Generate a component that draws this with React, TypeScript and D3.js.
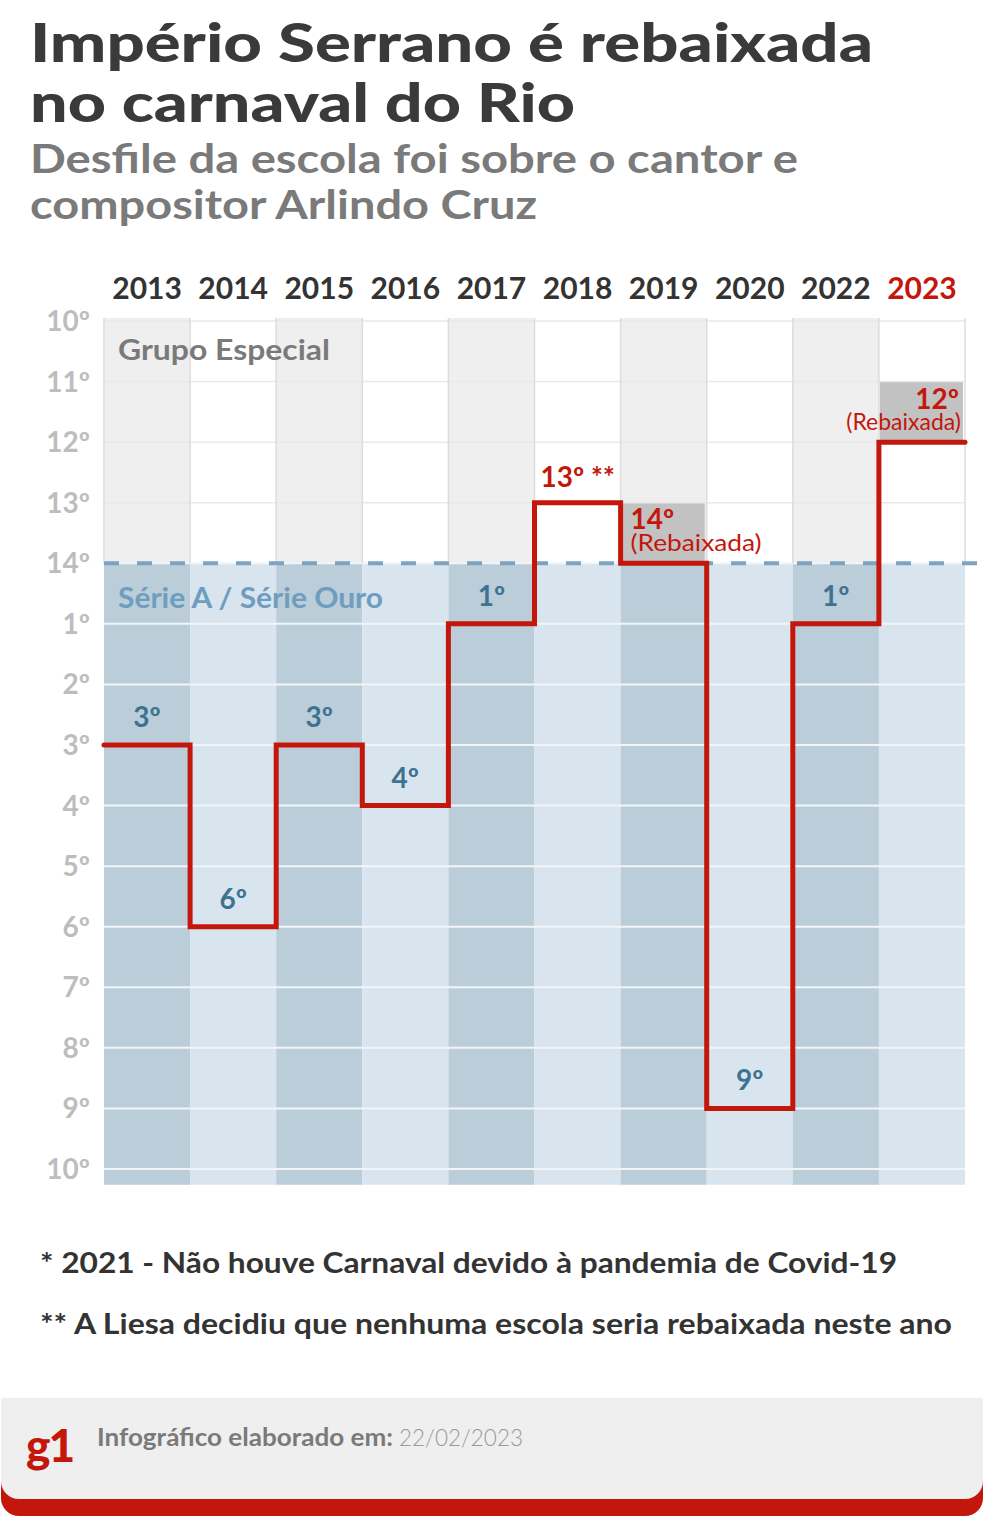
import React from 'react'
import * as d3 from 'd3'

const YEARS = ['2013', '2014', '2015', '2016', '2017', '2018', '2019', '2020', '2022', '2023']
const GROUPS = ['A', 'A', 'A', 'A', 'A', 'GE', 'GE', 'A', 'A', 'GE']
const RANKS = [3, 6, 3, 4, 1, 13, 14, 9, 1, 12]
const TICK_LABELS = ['10º', '11º', '12º', '13º', '14º', '1º', '2º', '3º', '4º', '5º', '6º', '7º', '8º', '9º', '10º']
const RELEGATED = ['2019', '2023']

const W = 984
const H = 1526
const RED = '#c4170c'
const BLUE_TXT = '#3d7391'
const FONT = 'Lato, "Noto Sans", sans-serif'

// position on the chart: Grupo Especial 10º..14º -> 0..4, Série A 1º..10º -> 5..14
const pos = (g: string, r: number) => (g === 'GE' ? r - 10 : r + 4)

const x = d3.scaleBand<string>().domain(YEARS).range([104, 965]).padding(0)
const y = d3.scaleLinear().domain([0, 14]).range([321, 1169])

const plotTop = y(-0.05)
const plotBottom = y(14.26)
const split = y(4)

export default function App() {
  const bw = x.bandwidth()
  const pts: [number, number][] = YEARS.map((yr, i) => [x(yr)!, y(pos(GROUPS[i], RANKS[i]))])
  pts.push([x(YEARS[YEARS.length - 1])! + bw, pts[pts.length - 1][1]])
  const line = d3.line().curve(d3.curveStepAfter)(pts) || ''

  return (
    <div style={{ position: 'absolute', left: 0, top: 0 }}>
      <svg width={W} height={H} style={{ display: 'block', fontFamily: FONT }}>
        <rect width={W} height={H} fill="#fff" />

        {/* titles */}
        <text x={30} y={62} fontSize={54} fontWeight={900} fill="#3a3a3a" textLength={843} lengthAdjust="spacingAndGlyphs">Império Serrano é rebaixada</text>
        <text x={30} y={122} fontSize={54} fontWeight={900} fill="#3a3a3a" textLength={545} lengthAdjust="spacingAndGlyphs">no carnaval do Rio</text>
        <text x={30} y={173} fontSize={40} fontWeight={700} fill="#7a7a7a" textLength={768} lengthAdjust="spacingAndGlyphs">Desfile da escola foi sobre o cantor e</text>
        <text x={30} y={219} fontSize={40} fontWeight={700} fill="#7a7a7a" textLength={507} lengthAdjust="spacingAndGlyphs">compositor Arlindo Cruz</text>

        {/* column backgrounds */}
        {YEARS.map((yr, i) => (
          <g key={yr}>
            <rect x={x(yr)} y={plotTop} width={bw} height={split - plotTop} fill={i % 2 === 0 ? '#efefef' : '#fff'} />
            <rect x={x(yr)} y={split} width={bw} height={plotBottom - split} fill={i % 2 === 0 ? '#bacdd9' : '#d9e5ee'} />
          </g>
        ))}

        {/* relegation highlight boxes */}
        {RELEGATED.map(yr => {
          const i = YEARS.indexOf(yr)
          const p = pos(GROUPS[i], RANKS[i])
          return <rect key={yr} x={x(yr)! + 1} y={y(p - 1)} width={bw - 3} height={y(p) - y(p - 1)} fill="#c2c2c2" />
        })}

        {/* horizontal grid */}
        {TICK_LABELS.map((t, i) => (
          <line key={'g' + i} x1={104} x2={965} y1={y(i)} y2={y(i)}
            stroke={i < 4 ? '#e9e9e9' : '#f1f5f8'} strokeWidth={i < 4 ? 1.5 : 2} />
        ))}

        {/* vertical separators in the top band */}
        {YEARS.map(yr => x(yr)!).concat([965]).map((xv, i) => (
          <line key={'v' + i} x1={xv} x2={xv} y1={plotTop} y2={split} stroke="#dcdcdc" strokeWidth={1.5} />
        ))}

        {/* dashed boundary */}
        <line x1={104} x2={W} y1={split} y2={split} stroke="#7ea3c1" strokeWidth={4} strokeDasharray="15 18" />

        {/* y labels */}
        {TICK_LABELS.map((t, i) => (
          <text key={'t' + i} x={90} y={y(i) + 10} textAnchor="end" fontSize={28} fontWeight={700} fill="#bdbdbd">{t}</text>
        ))}

        {/* year labels */}
        {YEARS.map((yr, i) => (
          <text key={'y' + yr} x={x(yr)! + bw / 2} y={299} textAnchor="middle" fontSize={30} fontWeight={700}
            fill={i === YEARS.length - 1 ? RED : '#333'}>{yr}</text>
        ))}

        <text x={118} y={360} fontSize={29} fontWeight={700} fill="#7a7a7a" textLength={212} lengthAdjust="spacingAndGlyphs">Grupo Especial</text>
        <text x={118} y={608} fontSize={29} fontWeight={700} fill="#6f9dc0" textLength={265} lengthAdjust="spacingAndGlyphs">Série A / Série Ouro</text>

        {/* step line */}
        <path d={line} fill="none" stroke={RED} strokeWidth={5} strokeLinejoin="miter" strokeLinecap="round" />

        {/* value labels */}
        {YEARS.map((yr, i) => {
          const yy = y(pos(GROUPS[i], RANKS[i]))
          const cx = x(yr)! + bw / 2
          if (GROUPS[i] === 'A') {
            return <text key={'l' + yr} x={cx} y={yy - 18} textAnchor="middle" fontSize={28} fontWeight={700} fill={BLUE_TXT}>{RANKS[i]}º</text>
          }
          if (yr === '2018') {
            return <text key={'l' + yr} x={x(yr)! + 6} y={yy - 16} fontSize={28} fontWeight={700} fill={RED}>{RANKS[i]}º **</text>
          }
          if (yr === '2019') {
            return (
              <g key={'l' + yr}>
                <text x={x(yr)! + 10} y={yy - 34} fontSize={28} fontWeight={700} fill={RED}>{RANKS[i]}º</text>
                <text x={x(yr)! + 10} y={yy - 12} fontSize={23} fill={RED} textLength={131} lengthAdjust="spacingAndGlyphs">(Rebaixada)</text>
              </g>
            )
          }
          return (
            <g key={'l' + yr}>
              <text x={x(yr)! + bw - 6} y={yy - 33} textAnchor="end" fontSize={28} fontWeight={700} fill={RED}>{RANKS[i]}º</text>
              <text x={x(yr)! + bw - 4} y={yy - 12} textAnchor="end" fontSize={23} fill={RED}>(Rebaixada)</text>
            </g>
          )
        })}

        {/* footnotes */}
        <text x={40} y={1273} fontSize={29} fontWeight={700} fill="#333" textLength={857} lengthAdjust="spacingAndGlyphs">* 2021 - Não houve Carnaval devido à pandemia de Covid-19</text>
        <text x={40} y={1334} fontSize={29} fontWeight={700} fill="#333" textLength={912} lengthAdjust="spacingAndGlyphs">** A Liesa decidiu que nenhuma escola seria rebaixada neste ano</text>

        {/* footer */}
        <rect x={1} y={1398} width={W - 2} height={118} rx={18} fill={RED} />
        <rect x={1} y={1398} width={W - 2} height={20} fill="#efefef" />
        <rect x={1} y={1398} width={W - 2} height={101} rx={18} fill="#efefef" />
        <text x={26} y={1462} fontSize={46} fontWeight={900} fill={RED} letterSpacing={-2}>g1</text>
        <text x={97} y={1446} fontSize={24} fontWeight={700} fill="#7a7a7a" textLength={296} lengthAdjust="spacingAndGlyphs">Infográfico elaborado em:</text>
        <text x={399} y={1446} fontSize={24} fontWeight={300} fill="#9a9a9a" textLength={124} lengthAdjust="spacingAndGlyphs">22/02/2023</text>
      </svg>
    </div>
  )
}
